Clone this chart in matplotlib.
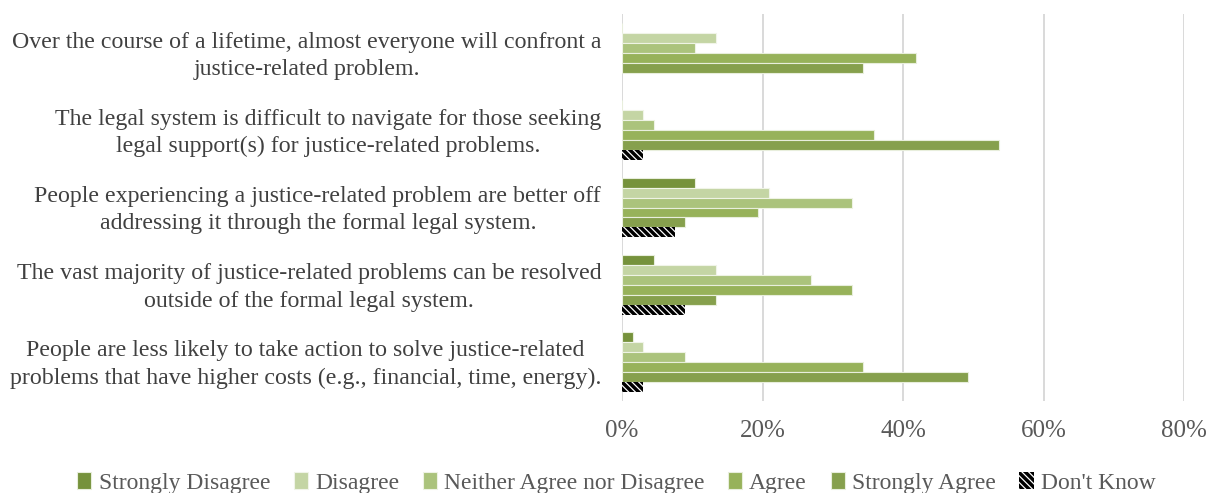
import matplotlib
matplotlib.use("Agg")
import matplotlib.pyplot as plt
import matplotlib.transforms as mtransforms
import numpy as np

statements = [
    "Over the course of a lifetime, almost everyone will confront a\njustice-related problem.",
    "The legal system is difficult to navigate for those seeking\nlegal support(s) for justice-related problems.",
    "People experiencing a justice-related problem are better off\naddressing it through the formal legal system.",
    "The vast majority of justice-related problems can be resolved\noutside of the formal legal system.",
    "People are less likely to take action to solve justice-related\nproblems that have higher costs (e.g., financial, time, energy).",
]

responses = ["Strongly Disagree", "Disagree", "Neither Agree nor Disagree",
             "Agree", "Strongly Agree", "Don't Know"]

strongly_disagree = [0.0, 0.0, 10.4, 4.5, 1.5]
disagree = [13.4, 3.0, 20.9, 13.4, 3.0]
neither = [10.4, 4.5, 32.8, 26.9, 9.0]
agree = [41.8, 35.8, 19.4, 32.8, 34.3]
strongly_agree = [34.3, 53.7, 9.0, 13.4, 49.3]
dont_know = [0.0, 3.0, 7.5, 9.0, 3.0]

xticks = [0, 20, 40, 60, 80]
xtick_labels = ["0%", "20%", "40%", "60%", "80%"]

series = [strongly_disagree, disagree, neither, agree, strongly_agree, dont_know]
colors = ["#76923C", "#C4D5A4", "#ABC37C", "#97B25A", "#86A04D", "white"]
edges = ["#E8EEDC", "#F0F4E8", "#EEF3E4", "#E8EEDC", "#E8EEDC", "black"]

plt.rcParams["font.family"] = ["Liberation Serif", "DejaVu Serif"]
plt.rcParams["hatch.linewidth"] = 2.5

fig = plt.figure(figsize=(12.06, 4.93), dpi=100)
ax = fig.add_axes([0.5158, 0.1874, 0.466, 0.7834])

n = len(statements)
y = np.arange(n)
group = 0.776
h = group / len(series)

for j, (vals, name, c, ec) in enumerate(zip(series, responses, colors, edges)):
    pos = y + (j - (len(series) - 1) / 2) * h
    if name == "Don't Know":
        ax.barh(pos, vals, height=h, color="white", edgecolor="black",
                hatch="\\" * 5, linewidth=0, label=name, zorder=3)
    else:
        ax.barh(pos, vals, height=h, color=c, edgecolor=ec, linewidth=0.8,
                label=name, zorder=3)

ax.set_xlim(0, 80)
ax.set_ylim(n - 0.5, -0.5)
ax.set_xticks(xticks)
ax.set_xticklabels(xtick_labels)
ax.set_yticks(y)
ax.set_yticklabels(statements, multialignment="center", linespacing=1.4)

ax.grid(axis="x", color="#D9D9D9", linewidth=1.4, zorder=0)
ax.set_axisbelow(True)
for s in ax.spines.values():
    s.set_visible(False)
ax.tick_params(axis="both", length=0)
ax.tick_params(axis="x", labelsize=18, labelcolor="#595959", pad=14)
ax.tick_params(axis="y", labelsize=17.2, labelcolor="#404040", pad=15)

# nudge the statement labels up a little
lift = mtransforms.ScaledTranslation(0, 3 / 100, fig.dpi_scale_trans)
for t in ax.get_yticklabels():
    t.set_transform(t.get_transform() + lift)

handles, labels = ax.get_legend_handles_labels()
leg = fig.legend(handles, labels, loc="center", bbox_to_anchor=(0.511, 0.02),
                 ncol=6, frameon=False, fontsize=17, handlelength=0.6,
                 handleheight=0.75, handletextpad=0.3, columnspacing=1.0,
                 labelcolor="#595959")

fig.savefig("out.png", dpi=100)
